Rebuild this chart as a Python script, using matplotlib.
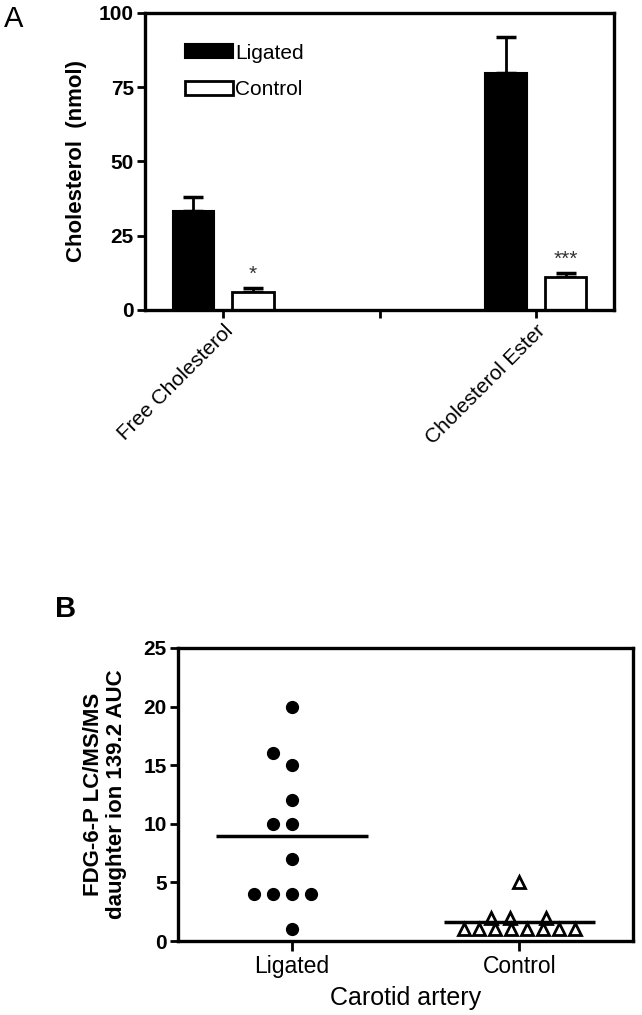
import matplotlib
matplotlib.use("Agg")
import matplotlib.pyplot as plt
import numpy as np
from matplotlib.patches import Patch

plt.rcParams['font.family'] = ['Liberation Sans', 'DejaVu Sans']

# panel A data: cholesterol (nmol), mean and upper SEM
chol_groups = ["Free Cholesterol", "", "Cholesterol Ester"]
ligated_mean = [33.3, np.nan, 79.8]
ligated_err = [4.7, np.nan, 12.1]
control_mean = [6.1, np.nan, 11.1]
control_err = [1.3, np.nan, 1.4]
sig_marks = ["*", "", "***"]

# panel B data: FDG-6-P LC/MS/MS AUC per animal
carotid_groups = ["Ligated", "Control"]
ligated_auc = [20, 16, 15, 12, 10, 10, 7, 4, 4, 4, 4, 1]
control_auc = [5, 2, 2, 2, 1, 1, 1, 1, 1, 1, 1, 1]
# horizontal scatter placement (in marker steps), as drawn in the figure
ligated_steps = [0, -1, 0, 0, -1, 0, 0, -2, -1, 0, 1, 0]
control_steps = [0, -1.75, -0.56, 1.7, -3.5, -2.5, -1.5, -0.5, 0.5, 1.5, 2.5, 3.5]

fig = plt.figure(figsize=(6.42, 10.15), dpi=100)

# ---------------- panel A ----------------
axA = fig.add_axes([0.2259, 0.6946, 0.7305, 0.2926])
x = np.arange(len(chol_groups))
off, w = 0.19, 0.265
axA.bar(x - off, ligated_mean, w, color='black', edgecolor='black', linewidth=1.5, zorder=2)
axA.bar(x + off, control_mean, w, color='white', edgecolor='black', linewidth=2, zorder=2)
axA.errorbar(x - off, ligated_mean, yerr=[np.zeros(3), ligated_err], fmt='none',
             ecolor='black', elinewidth=2, capsize=7.5, capthick=2.5, zorder=1)
axA.errorbar(x + off, control_mean, yerr=[np.zeros(3), control_err], fmt='none',
             ecolor='black', elinewidth=2, capsize=7.5, capthick=2.5, zorder=1)
for i, s in enumerate(sig_marks):
    if s:
        axA.text(x[i] + off, control_mean[i] + control_err[i] + 4.5, s,
                 ha='center', va='center', fontsize=15, color='#333333')

axA.set_xlim(-0.5, 2.5)
axA.set_ylim(0, 100)
axA.set_yticks([0, 25, 50, 75, 100])
axA.set_xticks(x)
axA.set_xticklabels(chol_groups, rotation=45, ha='right', rotation_mode='anchor',
                    fontsize=15)
for lab in axA.get_yticklabels():
    lab.set_fontweight('bold')
    lab.set_fontsize(15)
axA.tick_params(axis='both', width=2, length=6, direction='out', pad=2)
for sp in axA.spines.values():
    sp.set_linewidth(2.4)
axA.set_ylabel("Cholesterol  (nmol)", fontsize=16, fontweight='bold')
axA.yaxis.set_label_coords(-0.124, 0.5)

handles = [Patch(facecolor='black', edgecolor='black', linewidth=1.5),
           Patch(facecolor='white', edgecolor='black', linewidth=2)]
axA.legend(handles, ["Ligated", "Control"], loc='upper left',
           bbox_to_anchor=(0.045, 0.96), frameon=False, fontsize=15,
           handlelength=2.3, handleheight=0.65, handletextpad=0.1, labelspacing=0.85)

# ---------------- panel B ----------------
axB = fig.add_axes([0.2773, 0.0729, 0.7087, 0.2887])
step_l, step_c = 0.083, 0.07
xl = 0 + np.array(ligated_steps) * step_l
xc = 1 + np.array(control_steps) * step_c
axB.plot(xl, ligated_auc, 'o', color='black', markersize=8.5, zorder=3)
axB.plot(xc, control_auc, '^', markerfacecolor='white', markeredgecolor='black',
         markeredgewidth=2, markersize=8, zorder=3)
axB.hlines(np.mean(ligated_auc), -0.333, 0.333, color='black', linewidth=2.5, zorder=2)
axB.hlines(np.mean(control_auc), 1 - 0.333, 1 + 0.333, color='black', linewidth=2.5, zorder=4)

axB.set_xlim(-0.5, 1.5)
axB.set_ylim(0, 25)
axB.set_yticks([0, 5, 10, 15, 20, 25])
axB.set_xticks([0, 1])
axB.set_xticklabels(carotid_groups, fontsize=16.5)
for lab in axB.get_yticklabels():
    lab.set_fontweight('bold')
    lab.set_fontsize(15)
axB.tick_params(axis='y', width=2, length=6, direction='out', pad=2)
axB.tick_params(axis='x', width=2, length=7, direction='out', pad=3)
for sp in axB.spines.values():
    sp.set_linewidth(2.4)
axB.set_ylabel("FDG-6-P LC/MS/MS\ndaughter ion 139.2 AUC", fontsize=16,
               fontweight='bold', linespacing=1.15)
axB.yaxis.set_label_coords(-0.112, 0.5)
axB.set_xlabel("Carotid artery", fontsize=18, labelpad=6)

fig.text(0.006, 0.995, "A", fontsize=21, va='top', ha='left')
fig.text(0.086, 0.414, "B", fontsize=21, va='top', ha='left', fontweight='bold')

fig.savefig("out.png", dpi=100)
